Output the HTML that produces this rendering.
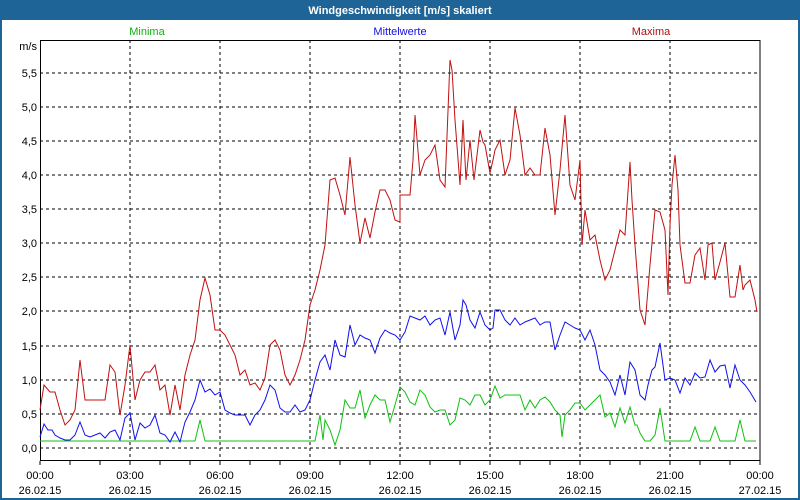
<!DOCTYPE html><html><head><style>body{margin:0}svg{display:block}</style></head><body>
<svg width="800" height="500" xmlns="http://www.w3.org/2000/svg" font-family="Liberation Sans, sans-serif" font-size="11">
<rect width="800" height="500" fill="#fff"/>
<rect x="0" y="0" width="800" height="20" fill="#1e6496"/>
<rect x="1" y="1" width="798" height="498" fill="none" stroke="#1e6496" stroke-width="2"/>
<text x="400" y="14" text-anchor="middle" fill="#fff" font-weight="bold">Windgeschwindigkeit [m/s] skaliert</text>
<text x="147" y="35" text-anchor="middle" fill="#10b010">Minima</text>
<text x="400" y="35" text-anchor="middle" fill="#1010e0">Mittelwerte</text>
<text x="651" y="35" text-anchor="middle" fill="#b01010">Maxima</text>
<g stroke="#000" stroke-dasharray="3,3" fill="none">
<path d="M40 448H760M40 414H760M40 380H760M40 346H760M40 311H760M40 277H760M40 243H760M40 209H760M40 175H760M40 141H760M40 107H760M40 73H760"/>
<path d="M130 40V460M220 40V460M310 40V460M400 40V460M490 40V460M580 40V460M670 40V460"/>
</g>
<rect x="40.5" y="40.5" width="719.5" height="420" fill="none" stroke="#000"/>
<g stroke="#000"><path d="M70 461v4M100 461v4M130 461v4M160 461v4M190 461v4M220 461v4M250 461v4M280 461v4M310 461v4M340 461v4M370 461v4M400 461v4M430 461v4M460 461v4M490 461v4M520 461v4M550 461v4M580 461v4M610 461v4M640 461v4M670 461v4M700 461v4M730 461v4M760 461v4M40 461v4"/></g>
<g text-anchor="end" fill="#000">
<text x="37" y="50">m/s</text>
<text x="37" y="452">0,0</text><text x="37" y="418">0,5</text><text x="37" y="384">1,0</text><text x="37" y="350">1,5</text><text x="37" y="315">2,0</text><text x="37" y="281">2,5</text><text x="37" y="247">3,0</text><text x="37" y="213">3,5</text><text x="37" y="179">4,0</text><text x="37" y="145">4,5</text><text x="37" y="111">5,0</text><text x="37" y="77">5,5</text>
</g>
<g text-anchor="middle" fill="#000">
<text x="40" y="479">00:00</text><text x="40" y="494">26.02.15</text>
<text x="130" y="479">03:00</text><text x="130" y="494">26.02.15</text>
<text x="220" y="479">06:00</text><text x="220" y="494">26.02.15</text>
<text x="310" y="479">09:00</text><text x="310" y="494">26.02.15</text>
<text x="400" y="479">12:00</text><text x="400" y="494">26.02.15</text>
<text x="490" y="479">15:00</text><text x="490" y="494">26.02.15</text>
<text x="580" y="479">18:00</text><text x="580" y="494">26.02.15</text>
<text x="670" y="479">21:00</text><text x="670" y="494">26.02.15</text>
<text x="760" y="479">00:00</text><text x="760" y="494">27.02.15</text>
</g>
<g fill="none" stroke-width="1">
<polyline stroke="#10c010" points="40,441 195,441 200,420 205,441 315,441 320,415 323,440 325,420 330,430 335,445 340,430 345,400 350,408 355,408 360,390 365,418 370,405 375,395 380,400 385,400 390,422 395,405 400,387 405,392 410,402 415,405 420,390 425,395 430,407 435,412 440,410 445,410 450,425 455,420 460,398 465,400 470,405 475,395 480,395 485,405 490,400 495,386 500,398 505,395 520,395 525,410 530,400 535,408 540,400 545,397 550,402 555,410 560,415 562,437 565,415 570,410 575,403 580,403 585,410 590,405 595,400 600,395 605,417 610,413 615,427 620,408 625,423 630,407 635,425 637,425 640,433 645,441 650,441 655,435 660,408 665,441 690,441 695,427 700,441 710,441 715,427 720,441 735,441 740,420 745,441 756,441"/>
<polyline stroke="#1010f0" points="40,437 44,424 48,430 52,430 55,435 60,438 65,440 70,440 75,435 80,422 85,435 90,437 95,435 100,433 105,438 110,432 115,430 120,440 125,418 130,413 135,440 140,423 145,428 150,425 155,415 160,433 165,435 170,442 175,432 180,442 185,422 190,412 195,400 200,380 205,392 210,389 215,395 220,392 225,410 230,413 235,415 245,415 250,425 255,415 260,410 265,400 270,385 275,390 280,408 285,412 290,412 295,405 300,412 305,410 310,400 315,380 320,362 325,355 330,370 335,340 340,355 345,357 350,325 355,345 360,335 365,338 370,340 375,353 380,338 385,330 390,333 395,335 400,340 405,332 410,316 415,318 420,320 425,316 430,325 435,320 440,318 445,335 450,312 455,340 460,325 463,300 466,305 470,320 475,328 480,312 485,325 490,330 493,328 495,310 500,310 505,320 510,325 515,318 520,325 525,322 530,320 535,318 540,325 545,322 550,322 555,350 560,335 565,322 570,325 575,328 580,330 585,340 590,330 595,345 600,370 605,375 610,382 615,395 620,375 625,395 630,362 635,370 640,395 645,400 648,385 652,370 655,367 660,343 665,380 670,378 675,380 680,393 685,378 690,385 695,373 700,378 705,377 710,360 715,372 720,366 725,365 730,388 735,365 740,380 745,385 750,392 756,402"/>
<polyline stroke="#c01010" points="40,410 44,385 50,392 55,392 60,410 65,425 70,420 75,410 80,360 85,400 105,400 110,365 115,372 120,415 125,385 130,345 135,400 140,380 145,372 150,372 155,365 160,390 165,385 170,415 175,385 180,410 185,375 190,355 195,340 200,300 205,278 210,295 215,330 220,330 225,335 230,345 235,355 240,375 245,370 250,385 255,383 260,390 265,378 270,345 275,340 280,350 285,375 290,385 295,375 300,360 305,340 310,305 315,290 320,270 325,245 330,180 335,178 340,195 345,215 350,157 355,205 360,243 365,218 370,238 375,212 380,190 385,190 390,200 395,220 400,222 400,195 410,195 413,160 415,115 420,175 425,160 430,155 435,145 440,180 445,187 450,60 452,70 455,120 460,185 463,120 466,180 470,140 474,180 480,130 483,142 485,145 490,173 493,160 495,150 500,140 505,175 510,160 515,108 520,135 525,175 530,168 535,175 540,175 545,128 550,155 555,215 560,170 565,115 570,185 575,200 580,160 582,245 585,210 590,240 595,235 600,260 605,280 610,270 615,250 620,230 625,235 630,162 632,200 635,245 640,310 645,325 650,265 655,210 660,212 665,230 668,295 670,225 672,185 675,155 678,190 680,245 685,283 690,283 695,255 700,248 705,280 708,245 712,243 715,280 720,262 725,243 730,297 735,297 740,265 743,290 745,285 750,280 755,300 757,312"/>
</g>
</svg>
</body></html>
